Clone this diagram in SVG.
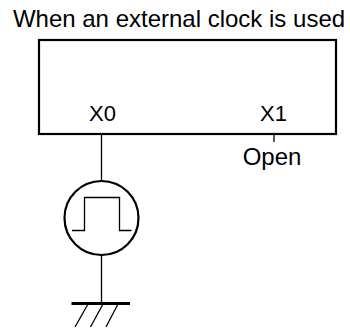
<svg xmlns="http://www.w3.org/2000/svg" width="350" height="329" viewBox="0 0 350 329">
<style>
text{font-family:"Liberation Sans",Arial,sans-serif;font-size:24px;fill:#000}
.lbl{font-size:22px}
.thin{stroke:#000;stroke-width:1.3;fill:none}
.thick{stroke:#000;stroke-width:2.2;fill:none}
</style>
<rect width="350" height="329" fill="#fff"/>
<text id="title" x="179" y="26.5" text-anchor="middle">When an external clock is used</text>
<g id="chip">
<rect class="thick" x="39" y="40" width="297" height="94"/>
<text class="lbl" x="102.5" y="120.5" text-anchor="middle">X0</text>
<text class="lbl" x="273.5" y="120.5" text-anchor="middle">X1</text>
</g>
<g id="open">
<text x="272" y="165" text-anchor="middle">Open</text>
</g>
<g id="clock">
<circle class="thick" cx="101.5" cy="218" r="37"/>
<polyline class="thin" points="72,230.5 84.5,230.5 84.5,197.5 119.5,197.5 119.5,230.5 131.5,230.5"/>
</g>
<g id="ground">
<line x1="71.5" y1="303.5" x2="130" y2="303.5" stroke="#000" stroke-width="3"/>
<line class="thin" x1="88" y1="304" x2="75" y2="327"/>
<line class="thin" x1="103" y1="304" x2="90.5" y2="327"/>
<line class="thin" x1="118" y1="304" x2="106" y2="327"/>
</g>
<g id="connectors">
<line class="thin" x1="101.5" y1="135" x2="101.5" y2="181"/>
<line class="thin" x1="101.5" y1="255" x2="101.5" y2="302"/>
<line class="thin" x1="274" y1="135" x2="274" y2="142"/>
</g>
</svg>
